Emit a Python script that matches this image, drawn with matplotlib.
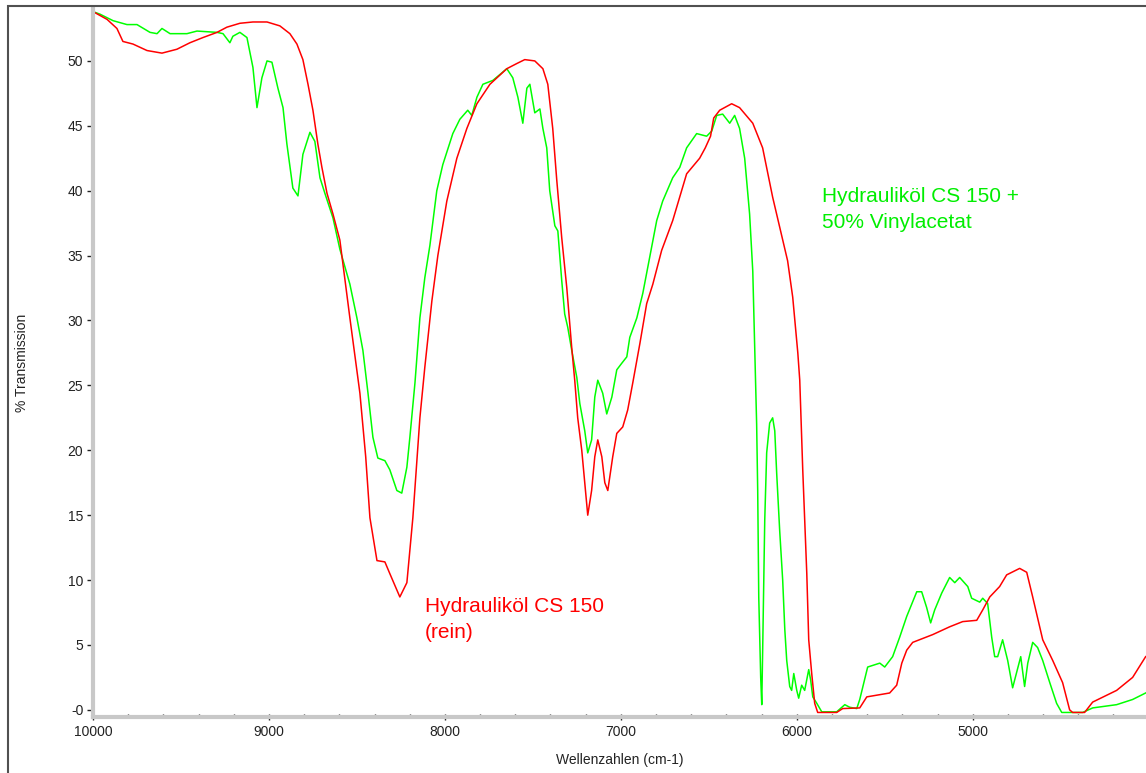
import matplotlib
matplotlib.use("Agg")
import matplotlib.pyplot as plt
from matplotlib.patches import Rectangle
from matplotlib.ticker import MultipleLocator, FixedLocator, FuncFormatter

plt.rcParams['font.family'] = ['Liberation Sans', 'DejaVu Sans']

# Hydraulikoel CS 150 (rein) - red trace
wn_rein = [10000, 9920, 9864, 9830, 9773, 9693, 9608, 9523, 9449, 9375, 9295, 9239,
           9165, 9091, 9011, 8938, 8881, 8841, 8807, 8778, 8750, 8722, 8699, 8670,
           8636, 8597, 8540, 8483, 8450, 8426, 8386, 8341, 8313, 8256, 8216, 8182,
           8142, 8114, 8074, 8040, 7989, 7932, 7875, 7818, 7744, 7648, 7591, 7546,
           7489, 7443, 7415, 7387, 7364, 7336, 7307, 7279, 7262, 7245, 7222, 7205,
           7188, 7166, 7148, 7131, 7108, 7091, 7074, 7046, 7023, 6989, 6961, 6932,
           6892, 6853, 6818, 6768, 6705, 6626, 6552, 6520, 6490, 6472, 6438, 6370,
           6325, 6250, 6194, 6137, 6080, 6052, 6023, 5994, 5983, 5966, 5943, 5932,
           5915, 5898, 5881, 5773, 5739, 5642, 5602, 5472, 5432, 5403, 5375, 5341,
           5227, 5131, 5057, 4977, 4943, 4903, 4847, 4807, 4733, 4693, 4659, 4602,
           4545, 4489, 4449, 4432, 4364, 4318, 4182, 4091, 4017]
t_rein = [53.8, 53.2, 52.5, 51.5, 51.3, 50.8, 50.6, 50.9, 51.4, 51.8, 52.2, 52.6,
          52.9, 53.0, 53.0, 52.7, 52.1, 51.3, 50.1, 48.2, 46.2, 43.6, 41.8, 39.8,
          38.2, 36.2, 30.2, 24.4, 19.5, 14.8, 11.5, 11.4, 10.5, 8.7, 9.8, 14.8,
          22.5, 26.4, 31.5, 35.0, 39.2, 42.5, 44.8, 46.7, 48.2, 49.4, 49.8, 50.1,
          50.0, 49.4, 48.2, 44.8, 40.8, 36.4, 32.5, 27.9, 25.4, 22.5, 20.0, 17.5,
          15.0, 16.9, 19.5, 20.8, 19.5, 17.5, 16.9, 19.5, 21.3, 21.8, 23.1, 25.2,
          28.2, 31.3, 32.8, 35.4, 37.7, 41.3, 42.5, 43.3, 44.2, 45.6, 46.2, 46.7,
          46.4, 45.2, 43.3, 39.5, 36.2, 34.6, 31.8, 27.5, 25.4, 18.5, 10.5, 5.4,
          2.8, 0.5, -0.2, -0.2, 0.1, 0.15, 1.0, 1.3, 1.9, 3.6, 4.6, 5.2,
          5.8, 6.4, 6.8, 6.9, 7.7, 8.7, 9.5, 10.4, 10.9, 10.6, 8.7, 5.4,
          3.8, 2.1, 0.0, -0.2, -0.2, 0.6, 1.5, 2.5, 4.1]

# Hydraulikoel CS 150 + 50% Vinylacetat - green trace
wn_mix = [10000, 9960, 9886, 9807, 9750, 9676, 9636, 9608, 9562, 9466, 9409, 9295,
          9261, 9222, 9205, 9165, 9125, 9091, 9068, 9040, 9011, 8983, 8949, 8920,
          8898, 8864, 8835, 8807, 8767, 8739, 8710, 8682, 8636, 8597, 8540, 8500,
          8466, 8437, 8409, 8381, 8341, 8313, 8273, 8245, 8216, 8199, 8170, 8142,
          8114, 8085, 8046, 8012, 7955, 7915, 7870, 7847, 7818, 7784, 7727, 7648,
          7614, 7585, 7557, 7534, 7517, 7489, 7460, 7443, 7421, 7404, 7375, 7358,
          7336, 7319, 7302, 7279, 7250, 7233, 7205, 7188, 7166, 7148, 7131, 7103,
          7080, 7051, 7023, 6995, 6966, 6949, 6909, 6875, 6847, 6796, 6762, 6705,
          6665, 6626, 6569, 6512, 6483, 6455, 6421, 6381, 6353, 6325, 6296, 6268,
          6250, 6239, 6228, 6222, 6216, 6205, 6199, 6194, 6182, 6171, 6154, 6137,
          6125, 6114, 6097, 6080, 6068, 6057, 6040, 6029, 6017, 6000, 5989, 5972,
          5955, 5932, 5921, 5909, 5886, 5858, 5773, 5727, 5699, 5659, 5642, 5597,
          5528, 5500, 5455, 5415, 5375, 5318, 5290, 5262, 5239, 5216, 5176, 5131,
          5102, 5074, 5028, 5006, 4960, 4943, 4915, 4892, 4875, 4858, 4830, 4801,
          4773, 4750, 4727, 4705, 4687, 4659, 4631, 4602, 4562, 4523, 4494, 4375,
          4318, 4182, 4091, 4017]
t_mix = [53.8, 53.6, 53.1, 52.8, 52.8, 52.2, 52.1, 52.5, 52.1, 52.1, 52.3, 52.2,
         52.1, 51.4, 51.9, 52.2, 51.8, 49.5, 46.4, 48.7, 50.0, 49.9, 47.9, 46.4,
         43.6, 40.2, 39.6, 42.8, 44.5, 43.8, 41.0, 39.8, 37.9, 35.5, 32.8, 30.2,
         27.7, 24.4, 21.0, 19.4, 19.2, 18.5, 16.9, 16.7, 18.7, 21.0, 25.2, 30.2,
         33.3, 35.8, 40.0, 42.0, 44.4, 45.5, 46.2, 45.8, 47.2, 48.2, 48.5, 49.4,
         48.7, 47.2, 45.2, 47.9, 48.2, 46.0, 46.3, 44.8, 43.3, 40.0, 37.3, 36.9,
         33.1, 30.5, 29.5, 27.7, 25.6, 23.6, 21.5, 19.8, 20.8, 24.1, 25.4, 24.4,
         22.8, 24.1, 26.2, 26.7, 27.2, 28.7, 30.2, 32.1, 34.1, 37.7, 39.2, 41.0,
         41.8, 43.3, 44.4, 44.2, 44.6, 45.8, 45.9, 45.2, 45.8, 44.8, 42.5, 38.2,
         33.8, 27.9, 22.0, 16.9, 8.7, 2.5, 0.4, 4.4, 14.6, 19.8, 22.1, 22.5,
         21.5, 18.2, 13.8, 10.0, 6.2, 3.8, 1.8, 1.5, 2.8, 1.5, 0.9, 1.9,
         1.5, 3.1, 2.3, 1.0, 0.5, -0.15, -0.15, 0.4, 0.2, 0.1, 0.8, 3.3,
         3.6, 3.3, 4.1, 5.6, 7.2, 9.1, 9.1, 7.9, 6.7, 7.7, 9.0, 10.2,
         9.8, 10.2, 9.5, 8.6, 8.3, 8.6, 8.2, 5.6, 4.1, 4.1, 5.4, 3.8,
         1.7, 2.9, 4.1, 1.8, 3.6, 5.2, 4.8, 3.8, 2.1, 0.5, -0.2, -0.2,
         0.15, 0.4, 0.8, 1.3]

y_ticks = [0, 5, 10, 15, 20, 25, 30, 35, 40, 45, 50]

W, H = 1146, 773
fig = plt.figure(figsize=(W / 100, H / 100), dpi=100)
ax = fig.add_axes([93 / W, 1 - 717 / H, 1 - 93 / W, (717 - 9) / H])

ax.plot(wn_mix, t_mix, color='#00ff00', lw=1.1)
ax.plot(wn_rein, t_rein, color='#ff0000', lw=1.1)

ax.set_xlim(10000, 4015)
ax.set_ylim(-0.55, 54)

ax.yaxis.set_major_locator(FixedLocator(y_ticks))
ax.yaxis.set_major_formatter(FuncFormatter(lambda v, p: '-0' if v == 0 else '%d' % v))
ax.xaxis.set_major_locator(MultipleLocator(1000))
ax.xaxis.set_minor_locator(MultipleLocator(200))

for s in ['top', 'right']:
    ax.spines[s].set_visible(False)
for s in ['left', 'bottom']:
    ax.spines[s].set_color('#c8c8c8')
    ax.spines[s].set_linewidth(3)

ax.tick_params(axis='y', direction='out', length=4, width=1, color='#222222',
               labelsize=10, labelcolor='#222222', pad=3)
ax.tick_params(axis='x', which='major', direction='inout', length=4, width=1,
               color='#222222', labelsize=10, labelcolor='#222222', pad=4)
ax.tick_params(axis='x', which='minor', direction='in', length=2, width=1,
               color='#222222')

ax.text(8114, 8.7, 'Hydrauliköl CS 150\n(rein)', color='#ff0000', fontsize=15,
        ha='left', va='top', linespacing=1.45)
ax.text(5859, 40.3, 'Hydrauliköl CS 150 +\n50% Vinylacetat', color='#00ee00',
        fontsize=15, ha='left', va='top', linespacing=1.45)

fig.text(620 / W, 1 - 760 / H, 'Wellenzahlen (cm-1)', ha='center', va='center',
         fontsize=10, color='#222222')
fig.text(22 / W, 1 - 363 / H, '% Transmission', rotation=90, ha='center',
         va='center', fontsize=10, color='#222222')

fig.patches.append(Rectangle((8 / W, -0.1), 1.2, 1.1 - 6 / H, fill=False,
                             edgecolor='#505050', lw=1.5, transform=fig.transFigure))

fig.savefig('out.png', dpi=100)
